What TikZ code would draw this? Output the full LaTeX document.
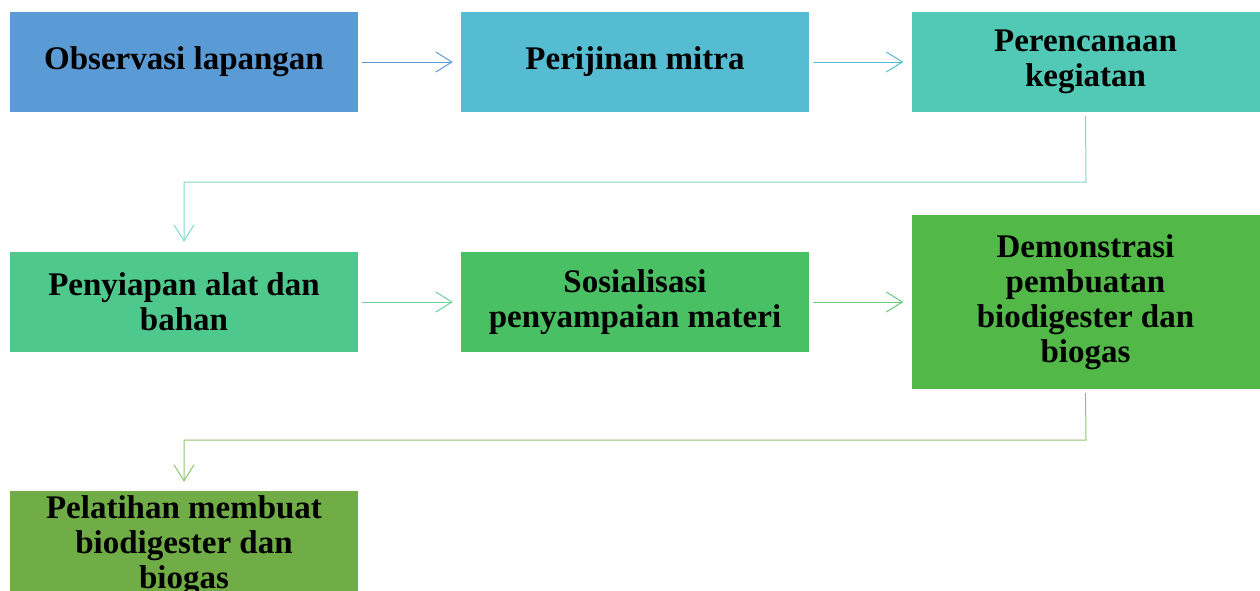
\documentclass[tikz,border=0pt]{standalone}
\usepackage{fontspec}
\setmainfont{Liberation Serif}
\usetikzlibrary{arrows.meta}
\definecolor{c1}{HTML}{5B9BD5}
\definecolor{c2}{HTML}{55BCD1}
\definecolor{c3}{HTML}{52C9B7}
\definecolor{c4}{HTML}{4EC88D}
\definecolor{c5}{HTML}{4AC065}
\definecolor{c6}{HTML}{52B848}
\definecolor{c7}{HTML}{70AD47}
\definecolor{a3}{HTML}{7FD8C8}
\definecolor{a4}{HTML}{6CD19A}
\definecolor{a5}{HTML}{66C97A}
\definecolor{a6}{HTML}{8DC56F}
\tikzset{
  box/.style={rectangle, inner sep=0pt, minimum width=348pt, minimum height=100pt,
    align=center, font=\fontsize{33}{35}\selectfont\bfseries, text=black},
  conn/.style={line width=1pt, -{Straight Barb[length=16pt,width=20pt,line width=1pt]}},
}
\begin{document}
\begin{tikzpicture}[x=1pt,y=-1pt]
\useasboundingbox (0,0) rectangle (1260,590);
\node[box, fill=c1] (b1) at (184,62) {Observasi lapangan};
\node[box, fill=c2] (b2) at (635,62) {Perijinan mitra};
\node[box, fill=c3] (b3) at (1085.5,62) {Perencanaan\\kegiatan};
\node[box, fill=c4] (b4) at (184,302) {Penyiapan alat dan\\bahan};
\node[box, fill=c5] (b5) at (635,302) {Sosialisasi\\penyampaian materi};
\node[box, fill=c6, minimum height=174pt] (b6) at (1085.5,302) {Demonstrasi\\pembuatan\\biodigester dan\\biogas};
\node[box, fill=c7, minimum height=110pt] (b7) at (184,546) {Pelatihan membuat\\biodigester dan\\biogas};
\coordinate (k1) at (1086,182);
\coordinate (k2) at (184,182);
\coordinate (k3) at (1086,440);
\coordinate (k4) at (184,440);
\draw[conn, c1] ([xshift=4pt]b1.east) -- ([xshift=-8pt]b2.west);
\draw[conn, c2] ([xshift=4pt]b2.east) -- ([xshift=-8pt]b3.west);
\draw[conn, a3] ([yshift=-4pt]b3.south) -- (k1) -- (k2) -- ([yshift=10pt]b4.north);
\draw[conn, a4] ([xshift=4pt]b4.east) -- ([xshift=-8pt]b5.west);
\draw[conn, a5] ([xshift=4pt]b5.east) -- ([xshift=-8pt]b6.west);
\draw[conn, a6] ([yshift=-4pt]b6.south) -- (k3) -- (k4) -- ([yshift=9pt]b7.north);
\end{tikzpicture}
\end{document}
